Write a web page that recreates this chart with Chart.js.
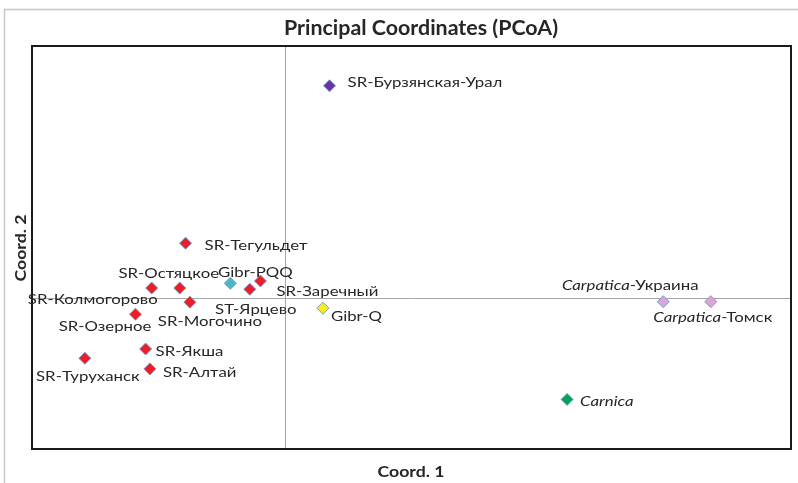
<!DOCTYPE html>
<html>
<head>
<meta charset="utf-8">
<script src="https://cdn.jsdelivr.net/npm/chart.js@4/dist/chart.umd.min.js"></script>
<style>
  html, body { margin: 0; padding: 0; background: #fff; }
  #wrap { width: 798px; height: 483px; position: relative; }
</style>
</head>
<body>
<div id="wrap"><canvas id="pcoa" width="798" height="483"></canvas></div>
<script>
// ---------- Data ---------- //
const populations = [
  "SR-Бурзянская-Урал", "SR-Тегульдет", "SR-Колмогорово", "SR-Остяцкое",
  "SR-Могочино", "SR-Озерное", "Gibr-PQQ", "ST-Ярцево", "SR-Заречный",
  "Gibr-Q", "SR-Якша", "SR-Туруханск", "SR-Алтай",
  "Carpatica-Украина", "Carpatica-Томск", "Carnica"
];
const coord1 = [0.176, -0.393, -0.527, -0.416, -0.376, -0.591, -0.216, -0.139, -0.097,
                0.150, -0.551, -0.791, -0.534, 1.495, 1.683, 1.115];
const coord2 = [0.842, 0.217, 0.039, 0.039, -0.017, -0.065, 0.058, 0.034, 0.067,
                -0.041, -0.203, -0.240, -0.282, -0.015, -0.015, -0.403];
const groups = ["Ural", "SR", "SR", "SR", "SR", "SR", "GibrPQQ", "SR", "SR",
                "GibrQ", "SR", "SR", "SR", "Carpatica", "Carpatica", "Carnica"];

// marker colours per group
const groupColors = {
  Ural: "#7030a0",
  SR: "#ee1c25",
  GibrPQQ: "#4bb8c8",
  GibrQ: "#f7ec1c",
  Carpatica: "#dba6d6",
  Carnica: "#00a550"
};

// label placement relative to marker: [dx, dy, align]
const labelPos = [
  [18, -3, "left"], [19, 2, "left"], [6, 11, "right"], [-11, -15, "center"],
  [20, 19, "center"], [16, 12, "right"], [25, -11, "center"], [6, 20, "center"],
  [16, 10, "left"], [8, 8, "left"], [10, 2, "left"], [3, 18, "center"],
  [13, 4, "left"], [-33, -16, "center"], [2, 16, "center"], [13, 2, "left"]
];

const TEXT = "#262626";
const FONT = "Lato, 'Open Sans', sans-serif";
const SX = 1.2; // reference text is wide, stretch horizontally

// draws a name, italic for the species part
function drawName(ctx, name, x, y, align) {
  let ital = "", rest = name;
  const m = name.match(/^(Carpatica|Carnica)(.*)$/);
  if (m) { ital = m[1]; rest = m[2]; }
  ctx.font = "italic 14px " + FONT;
  const w1 = ital ? ctx.measureText(ital).width : 0;
  ctx.font = "14px " + FONT;
  const w2 = ctx.measureText(rest).width;
  const total = (w1 + w2) * SX;
  let x0 = x;
  if (align === "center") x0 = x - total / 2;
  if (align === "right") x0 = x - total;
  ctx.save();
  ctx.translate(x0, y);
  ctx.scale(SX, 1);
  ctx.textAlign = "left";
  ctx.textBaseline = "middle";
  ctx.fillStyle = TEXT;
  if (ital) {
    ctx.font = "italic 14px " + FONT;
    ctx.fillText(ital, 0, 0);
  }
  ctx.font = "14px " + FONT;
  ctx.fillText(rest, w1, 0);
  ctx.restore();
}

function drawTitle(ctx, text, x, y, font, sx, angle) {
  ctx.save();
  ctx.translate(x, y);
  if (angle) ctx.rotate(angle);
  ctx.scale(sx, 1);
  ctx.fillStyle = TEXT;
  ctx.textAlign = "center";
  ctx.textBaseline = "middle";
  ctx.font = font;
  ctx.fillText(text, 0, 0);
  ctx.restore();
}

const framePlugin = {
  id: "frame",
  beforeDatasetsDraw(chart) {
    const { ctx, chartArea: a, scales } = chart;
    ctx.save();
    // outer chart border
    ctx.strokeStyle = "#c8c8c8";
    ctx.lineWidth = 1.5;
    ctx.beginPath();
    ctx.moveTo(4.5, 483);
    ctx.lineTo(4.5, 9.5);
    ctx.lineTo(798, 9.5);
    ctx.stroke();
    // zero axes
    const x0 = Math.round(scales.x.getPixelForValue(0)) + 0.5;
    const y0 = Math.round(scales.y.getPixelForValue(0)) + 0.5;
    ctx.strokeStyle = "#a6a6a6";
    ctx.lineWidth = 1;
    ctx.beginPath();
    ctx.moveTo(x0, a.top); ctx.lineTo(x0, a.bottom);
    ctx.moveTo(a.left, y0); ctx.lineTo(a.right, y0);
    ctx.stroke();
    // plot frame
    ctx.strokeStyle = "#1a1a1a";
    ctx.lineWidth = 2;
    ctx.strokeRect(a.left, a.top, a.right - a.left, a.bottom - a.top);
    ctx.restore();
  },
  afterDatasetsDraw(chart) {
    const { ctx, scales } = chart;
    populations.forEach((name, i) => {
      const px = scales.x.getPixelForValue(coord1[i]);
      const py = scales.y.getPixelForValue(coord2[i]);
      const [dx, dy, align] = labelPos[i];
      drawName(ctx, name, px + dx, py + dy, align);
    });
    // titles
    drawTitle(ctx, "Principal Coordinates (PCoA)", 421, 29, "bold 20px " + FONT, 1.07, 0);
    drawTitle(ctx, "Coord. 1", 411, 472, "bold 15px " + FONT, 1.18, 0);
    drawTitle(ctx, "Coord. 2", 21, 248, "bold 15px " + FONT, 1.18, -Math.PI / 2);
  }
};

const points = coord1.map((x, i) => ({ x: x, y: coord2[i] }));

new Chart(document.getElementById("pcoa"), {
  type: "scatter",
  data: {
    datasets: [{
      data: points,
      pointStyle: "rectRot",
      pointRadius: 6,
      pointHoverRadius: 6,
      pointBackgroundColor: groups.map(g => groupColors[g]),
      pointBorderColor: "#6f9bd6",
      pointBorderWidth: 1
    }]
  },
  options: {
    responsive: false,
    animation: false,
    layout: { padding: { left: 32, top: 46, right: 6, bottom: 34 } },
    plugins: { legend: { display: false }, tooltip: { enabled: false } },
    scales: {
      x: { display: false, min: -1, max: 2 },
      y: { display: false, min: -0.6, max: 1.0 }
    }
  },
  plugins: [framePlugin]
});
</script>
</body>
</html>
